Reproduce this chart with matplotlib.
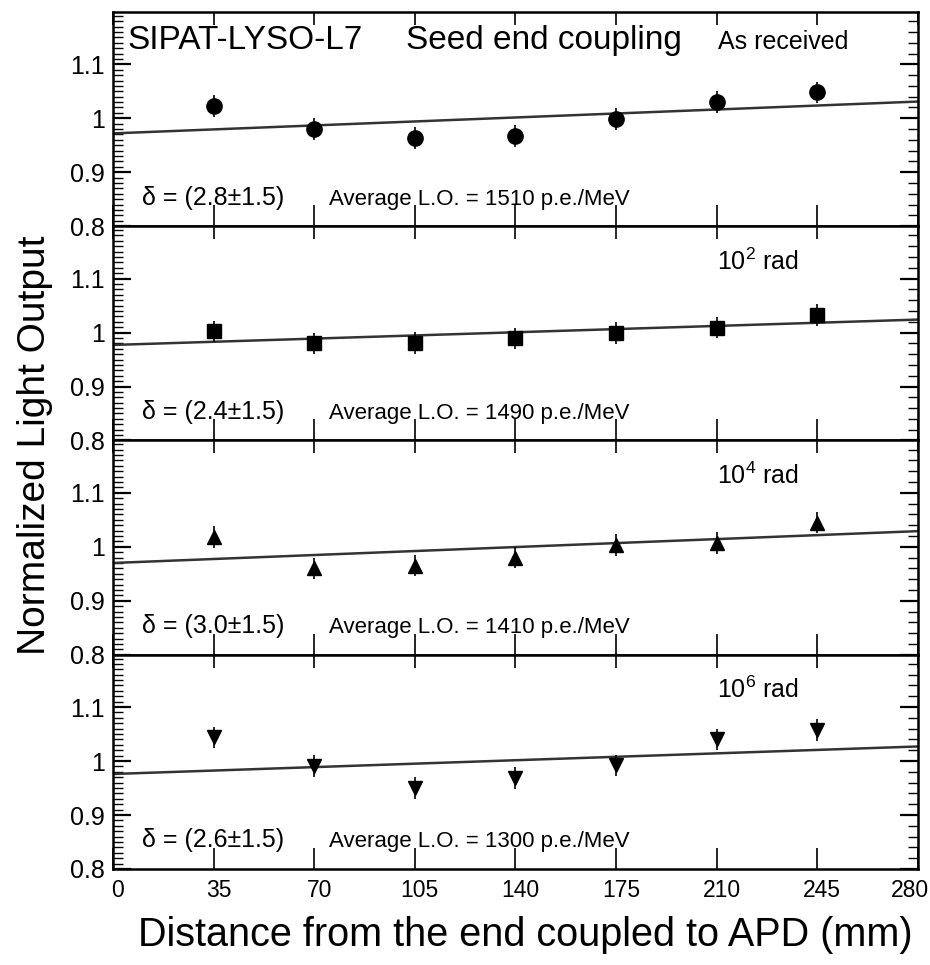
"""
Light output vs. distance from the APD end, four irradiation steps, stacked panels.
"""

import matplotlib

matplotlib.use("Agg")
import matplotlib.pyplot as plt
import matplotlib.transforms as mtransforms
import numpy as np
from matplotlib.ticker import MultipleLocator, FixedLocator

plt.rcParams["font.family"] = ["Liberation Sans", "DejaVu Sans"]
plt.rcParams["mathtext.fontset"] = "custom"
plt.rcParams["mathtext.rm"] = "Liberation Sans"

# distance along the crystal (mm)
positions = [35, 70, 105, 140, 175, 210, 245]

# normalized light output per step
lo_received = [1.023, 0.980, 0.963, 0.967, 0.999, 1.030, 1.048]
lo_1e2 = [1.002, 0.980, 0.981, 0.989, 0.999, 1.009, 1.033]
lo_1e4 = [1.018, 0.960, 0.965, 0.980, 1.003, 1.007, 1.045]
lo_1e6 = [1.044, 0.991, 0.950, 0.969, 0.992, 1.040, 1.058]
lo_err = [0.02, 0.02, 0.02, 0.02, 0.02, 0.02, 0.02]

# linear fits: value at 0 mm and at 280 mm
fit_start = [0.972, 0.977, 0.970, 0.976]
fit_end = [1.031, 1.024, 1.029, 1.027]

delta = ["2.8", "2.4", "3.0", "2.6"]
avg_lo = [1510, 1490, 1410, 1300]
dose_labels = ["As received", r"10$^2$ rad", r"10$^4$ rad", r"10$^6$ rad"]
markers = ["o", "s", "^", "v"]
marker_sizes = [11, 10, 10.5, 10.5]

x_ticks = [0, 35, 70, 105, 140, 175, 210, 245, 280]


def draw_panel(ax, values, idx):
    ax.errorbar(
        positions, values, yerr=lo_err, fmt=markers[idx], color="black",
        ms=marker_sizes[idx], elinewidth=1.2, capsize=0, zorder=3,
    )
    xs = np.array([0, 280])
    ax.plot(xs, [fit_start[idx], fit_end[idx]], color="#333333", lw=1.8, zorder=2)

    ax.set_xlim(0, 280)
    ax.set_ylim(0.8, 1.197)
    ax.yaxis.set_major_locator(FixedLocator([0.8, 0.9, 1.0, 1.1]))
    ax.yaxis.set_minor_locator(MultipleLocator(0.01))
    ax.set_yticklabels(["0.8", "0.9", "1", "1.1"])
    ax.xaxis.set_major_locator(FixedLocator(x_ticks))
    ax.tick_params(axis="y", which="major", direction="in", length=13, width=1.6,
                   labelsize=18, right=False, pad=6)
    ax.tick_params(axis="y", which="minor", direction="in", length=7, width=1.0, right=False)
    ax.tick_params(axis="x", which="major", direction="in", length=15, width=1.2,
                   labelsize=16.5, pad=7)
    for sp in ax.spines.values():
        sp.set_linewidth(1.8)

    # top ticks are shorter than the bottom ones
    top = ax.secondary_xaxis("top")
    top.xaxis.set_major_locator(FixedLocator(x_ticks))
    top.tick_params(direction="in", length=9, width=1.2, labeltop=False)

    # right side has coarser minor ticks
    sec = ax.secondary_yaxis("right")
    sec.yaxis.set_major_locator(FixedLocator([0.8, 0.9, 1.0, 1.1]))
    sec.yaxis.set_minor_locator(MultipleLocator(0.02))
    sec.tick_params(which="major", direction="in", length=13, width=1.6, labelright=False)
    sec.tick_params(which="minor", direction="in", length=7, width=1.0)

    ax.text(10, 0.84, f"\u03b4 = ({delta[idx]}\u00b11.5)", fontsize=18, va="baseline")
    ax.text(75, 0.84, f"Average L.O. = {avg_lo[idx]} p.e./MeV", fontsize=16,
            va="baseline")
    if idx == 0:
        ax.text(5, 1.128, "SIPAT-LYSO-L7", fontsize=24, va="baseline")
        ax.text(102, 1.128, "Seed end coupling", fontsize=24, va="baseline")
        ax.text(210.5, 1.128, dose_labels[idx], fontsize=18, va="baseline")
    else:
        ax.text(210, 1.116, dose_labels[idx], fontsize=18, va="baseline")


fig = plt.figure(figsize=(9.3, 9.65), dpi=100)
fig.subplots_adjust(left=0.1215, right=0.987, top=0.9876, bottom=0.0995, hspace=0)
axs = fig.subplots(4, 1, sharex=True)

all_values = [lo_received, lo_1e2, lo_1e4, lo_1e6]
for i, ax in enumerate(axs):
    draw_panel(ax, all_values[i], i)

axs[-1].set_xticklabels([str(t) for t in x_ticks])
for ax in axs[:-1]:
    ax.tick_params(axis="x", labelbottom=False)

# tick labels sit slightly right of their ticks; the last one stays inside
shift = mtransforms.ScaledTranslation(5 / 100, 0, fig.dpi_scale_trans)
labels = axs[-1].get_xticklabels()
for lab in labels[:-1]:
    lab.set_transform(lab.get_transform() + shift)
labels[-1].set_horizontalalignment("right")
labels[-1].set_transform(labels[-1].get_transform()
                         + mtransforms.ScaledTranslation(11 / 100, 0, fig.dpi_scale_trans))

fig.text(0.038, 0.539, "Normalized Light Output", rotation=90, fontsize=28,
         ha="center", va="center")
fig.text(0.5645, 0.031, "Distance from the end coupled to APD (mm)", fontsize=28.5,
         ha="center", va="center")

plt.savefig("out.png", dpi=100)
plt.close()
